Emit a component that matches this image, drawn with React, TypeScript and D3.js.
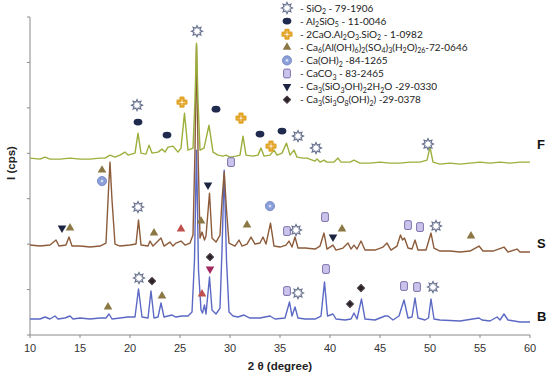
import React from 'react';
import * as d3 from 'd3';

// XRD patterns, [2θ, intensity (cps, offset traces)]
const seriesB: [number, number][] = [
  [10, 176], [11, 176], [11.5, 198], [12, 176], [12.5, 209], [12.8, 176], [13.5, 187], [14, 209], [14.3, 176],
  [15, 187], [16, 176], [17, 187], [17.6, 187], [17.9, 231], [18.2, 176], [19, 187], [19.8, 198], [20.5, 198],
  [20.85, 506], [21.2, 198], [21.8, 187], [22.1, 484], [22.4, 187], [22.8, 198], [23.1, 352], [23.4, 198],
  [24.2, 220], [24.6, 198], [25.2, 209], [25.8, 209], [26.2, 253], [26.45, 825], [26.65, 2035], [26.85, 715],
  [27.1, 275], [27.25, 242], [27.45, 330], [27.6, 231], [27.95, 638], [28.2, 275], [28.6, 231], [29.0, 297],
  [29.2, 935], [29.42, 1815], [29.65, 825], [29.9, 253], [30.3, 209], [30.8, 198], [31.4, 220], [32, 187],
  [33, 187], [34, 209], [34.5, 176], [35.5, 187], [35.95, 363], [36.2, 209], [36.5, 308], [36.8, 187],
  [37.5, 176], [38.5, 176], [39.1, 209], [39.45, 583], [39.75, 209], [40.3, 231], [40.6, 176], [41.5, 165],
  [42.1, 176], [42.4, 242], [42.7, 176], [43.15, 396], [43.5, 176], [44.5, 165], [45.5, 209], [45.8, 209],
  [46.3, 165], [46.9, 209], [47.4, 385], [47.8, 187], [48.2, 198], [48.5, 407], [48.8, 187], [49.5, 165],
  [49.85, 187], [50.1, 396], [50.4, 176], [51, 165], [53, 154], [54.9, 187], [55.2, 165], [56, 154],
  [56.7, 198], [57.0, 165], [57.4, 231], [57.8, 165], [59, 143], [60, 143],
];

const seriesS: [number, number][] = [
  [10, 990], [11, 979], [12, 990], [12.6, 1045], [12.9, 979], [13.6, 990], [13.9, 1078], [14.2, 979],
  [15, 979], [16, 968], [17, 979], [17.6, 1012], [17.85, 1595], [18.0, 1903], [18.2, 1485], [18.5, 1001],
  [19, 979], [20, 990], [20.6, 1001], [20.85, 1265], [21.1, 990], [21.8, 979], [22.0, 1034], [22.3, 979],
  [23.1, 1067], [23.4, 979], [24.0, 1023], [24.3, 979], [24.6, 1012], [25.1, 1034], [25.5, 990], [26.0, 1012],
  [26.3, 1100], [26.5, 2035], [26.65, 3190], [26.8, 2035], [27.0, 1067], [27.2, 1133], [27.45, 1045],
  [27.6, 1089], [27.95, 1562], [28.2, 1067], [28.6, 1023], [29.0, 1100], [29.2, 1485], [29.42, 1793],
  [29.65, 1375], [29.9, 1012], [30.5, 979], [30.9, 1045], [31.2, 979], [31.7, 1001], [32.1, 1078],
  [32.5, 1001], [33.0, 1012], [33.3, 1078], [33.6, 1001], [34.05, 1232], [34.4, 979], [35.0, 968],
  [35.6, 990], [35.9, 1034], [36.2, 968], [36.5, 1078], [36.8, 957], [37.5, 957], [38.5, 946], [39.0, 979],
  [39.4, 1122], [39.7, 946], [40.3, 990], [40.6, 935], [41.3, 957], [41.8, 1012], [42.1, 946], [42.4, 990],
  [42.7, 946], [43.1, 1034], [43.5, 935], [44.5, 935], [45.3, 968], [45.7, 1012], [46.1, 935], [46.7, 979],
  [47.05, 1100], [47.25, 1045], [47.45, 1067], [47.8, 957], [48.2, 946], [48.5, 1045], [48.8, 935],
  [49.6, 935], [50.1, 1122], [50.4, 957], [51, 924], [52, 924], [53, 913], [54, 924], [54.9, 979],
  [55.3, 924], [56.3, 924], [57.4, 968], [57.8, 913], [58.7, 946], [59.0, 913], [60, 913],
];

const seriesF: [number, number][] = [
  [10, 1947], [11, 1936], [11.5, 1958], [12, 1936], [13, 1936], [14, 1947], [15, 1936], [16, 1936],
  [17, 1947], [17.5, 1947], [18.0, 1980], [18.5, 1958], [19, 1980], [19.5, 2013], [19.8, 1980], [20.5, 2002],
  [20.8, 2222], [21.1, 2002], [21.6, 1991], [21.9, 2090], [22.2, 2002], [22.8, 2013], [23.2, 2046],
  [23.5, 2013], [23.8, 2068], [24.3, 2079], [24.8, 2013], [25.1, 2057], [25.45, 2442], [25.8, 2035],
  [26.3, 2057], [26.5, 2585], [26.65, 3212], [26.8, 2585], [27.0, 2035], [27.4, 2057], [27.9, 2310],
  [28.3, 2013], [28.8, 1980], [29.3, 1969], [29.6, 1980], [30.0, 1958], [30.6, 1969], [31.0, 1980],
  [31.3, 2189], [31.6, 1980], [32.3, 1969], [32.8, 1980], [33.1, 2057], [33.4, 1969], [34, 1980],
  [34.4, 2035], [34.7, 1980], [35.2, 2002], [35.65, 2112], [36.0, 1980], [36.4, 2035], [36.7, 1958],
  [37.3, 1947], [37.7, 1947], [38.5, 1914], [38.7, 1936], [39.0, 1903], [39.4, 1925], [39.7, 1903],
  [40.4, 1903], [40.8, 1947], [41.1, 1903], [42, 1903], [42.4, 1925], [43, 1892], [44, 1892], [45, 1903],
  [46, 1892], [47, 1892], [48, 1903], [49, 1903], [49.7, 1925], [50.0, 2068], [50.3, 1903], [51, 1881],
  [52, 1892], [53, 1881], [54, 1892], [55, 1903], [56, 1892], [57, 1903], [58, 1892], [59, 1903], [60, 1903],
];

// phase markers: [2θ, height, phase, colour override]
type Mark = [number, number, string, string?];
const marksF: Mark[] = [
  [26.7, 3344, 'star'], [20.7, 2530, 'star'], [20.8, 2343, 'hex'], [23.7, 2200, 'hex'], [25.2, 2563, 'gehl'],
  [28.6, 2486, 'hex'], [31.1, 2387, 'gehl'], [33.0, 2211, 'hex'], [34.1, 2079, 'gehl'], [35.2, 2244, 'hex'],
  [36.8, 2189, 'star'], [38.6, 2057, 'star'], [49.8, 2101, 'star'],
];
const marksS: Mark[] = [
  [13.2, 1177, 'down'], [14.0, 1177, 'tri'], [17.2, 1815, 'tri'], [17.2, 1694, 'circ'], [20.8, 1408, 'star'],
  [22.4, 1122, 'tri'], [25.1, 1166, 'tri', '#c0504d'], [27.1, 1254, 'tri'], [27.8, 1650, 'down'],
  [30.1, 1903, 'rect'], [31.7, 1210, 'tri'], [34.0, 1419, 'circ'], [35.7, 1144, 'rect'], [36.6, 1155, 'star'],
  [39.5, 1298, 'rect'], [40.3, 1078, 'down'], [41.2, 1166, 'tri'], [47.8, 1210, 'rect'], [49.0, 1188, 'rect'],
  [50.6, 1199, 'star'], [54.1, 1089, 'tri'],
];
const marksB: Mark[] = [
  [17.8, 308, 'tri'], [20.9, 627, 'star'], [22.2, 594, 'diam'], [23.2, 429, 'tri'], [27.2, 451, 'tri', '#c0504d'],
  [28.0, 858, 'diam'], [28.0, 726, 'down', '#a3285e'], [35.7, 484, 'rect'], [36.8, 462, 'star'],
  [39.6, 726, 'rect'], [42.0, 341, 'diam'], [43.1, 517, 'diam'], [47.4, 539, 'rect'], [48.7, 528, 'rect'],
  [50.3, 528, 'star'],
];

const legendPhases = ['star', 'hex', 'gehl', 'tri', 'circ', 'rect', 'down', 'diam'];
const legendLabels = [
  '- SiO_{2} - 79-1906',
  '- Al_{2}SiO_{5} - 11-0046',
  '- 2CaO.Al_{2}O_{3}.SiO_{2} - 1-0982',
  '- Ca_{6}(Al(OH)_{6})_{2}(SO_{4})_{3}(H_{2}O)_{26}-72-0646',
  '- Ca(OH)_{2} -84-1265',
  '- CaCO_{3} - 83-2465',
  '- Ca_{3}(SiO_{3}OH)_{2}2H_{2}O -29-0330',
  '- Ca_{3}(Si_{3}O_{8}(OH)_{2}) -29-0378',
];
const xTicks = [10, 15, 20, 25, 30, 35, 40, 45, 50, 55, 60];
const yTicks = [0, 500, 1000, 1500, 2000, 2500, 3000, 3500];

const W = 550, H = 376;
const margin = { left: 30, right: 20, top: 17, bottom: 41 };

const x = d3.scaleLinear().domain([10, 60]).range([margin.left, W - margin.right]);
const y = d3.scaleLinear().domain([0, 3500]).range([H - margin.bottom, margin.top]);

const line = d3.line<[number, number]>().x(d => x(d[0])).y(d => y(d[1]));

const starPath = (() => {
  const pts: [number, number][] = [];
  for (let i = 0; i < 16; i++) {
    const r = i % 2 === 0 ? 5.5 : 3.2;
    const a = (i * Math.PI) / 8;
    pts.push([r * Math.sin(a), -r * Math.cos(a)]);
  }
  return 'M' + pts.map(p => p.join(',')).join('L') + 'Z';
})();

function Marker({ type, cx, cy, color }: { type: string; cx: number; cy: number; color?: string }) {
  const t = `translate(${cx},${cy})`;
  switch (type) {
    case 'star':
      return <path transform={t} d={starPath} fill="#fff" stroke="#6a7390" strokeWidth={1.2} />;
    case 'hex':
      return <ellipse cx={cx} cy={cy} rx={4.4} ry={3.4} fill="#1f2a4e" />;
    case 'gehl':
      return <path transform={t} d={d3.symbol(d3.symbolCross, 42)()!} fill="#fff" stroke="#e2a52a" strokeWidth={2.4} strokeLinejoin="round" />;
    case 'tri':
      return <path transform={t} d={d3.symbol(d3.symbolTriangle, 32)()!} fill={color || '#8b7844'} />;
    case 'down':
      return <path transform={t + ' rotate(180)'} d={d3.symbol(d3.symbolTriangle, 32)()!} fill={color || '#1c2442'} />;
    case 'circ':
      return (
        <g>
          <circle cx={cx} cy={cy} r={4.6} fill="#8a9fd8" stroke="#6d80c2" strokeWidth={0.8} />
          <circle cx={cx} cy={cy} r={1.4} fill="#d4ddf4" />
        </g>
      );
    case 'rect':
      return <rect x={cx - 3.4} y={cy - 4.4} width={6.8} height={8.8} rx={1.5} fill="#cbc3ec" stroke="#7b71ab" strokeWidth={1} />;
    case 'diam':
      return <path transform={t + ' rotate(45)'} d={d3.symbol(d3.symbolSquare, 26)()!} fill="#2b2329" stroke="#4a3e46" strokeWidth={1} strokeLinejoin="round" />;
  }
  return null;
}

function Formula({ text }: { text: string }) {
  const parts = text.split(/(_\{[^}]*\})/).filter(s => s.length);
  let shifted = false;
  return (
    <>
      {parts.map((p, i) => {
        const isSub = p.startsWith('_{');
        const s = isSub ? p.slice(2, -1) : p;
        let dy = 0;
        if (isSub && !shifted) { dy = 2.5; shifted = true; }
        else if (!isSub && shifted) { dy = -2.5; shifted = false; }
        return (
          <tspan key={i} dy={dy} fontSize={isSub ? 7 : undefined}>{s}</tspan>
        );
      })}
    </>
  );
}

export default function App() {
  const series = [
    { name: 'B', data: seriesB, color: '#5b69c4', marks: marksB, labelY: 316 },
    { name: 'S', data: seriesS, color: '#8c5b3a', marks: marksS, labelY: 243 },
    { name: 'F', data: seriesF, color: '#9bb03c', marks: marksF, labelY: 144 },
  ];
  const x0 = margin.left, yBase = y(0);
  return (
    <svg width={W} height={H} style={{ position: 'absolute', left: 0, top: 0, background: '#fff' }}
      fontFamily="'Liberation Sans', Arial, sans-serif">
      {/* axes */}
      <line x1={x0} x2={x0} y1={y(3500)} y2={yBase} stroke="#8a8a8a" />
      <line x1={x0} x2={x(60)} y1={yBase} y2={yBase} stroke="#8a8a8a" />
      {yTicks.map(t => (
        <line key={t} x1={x0 - 3} x2={x0} y1={y(t)} y2={y(t)} stroke="#8a8a8a" />
      ))}
      {xTicks.map(t => (
        <g key={t}>
          <line x1={x(t)} x2={x(t)} y1={yBase} y2={yBase + 3} stroke="#8a8a8a" />
          <text x={x(t)} y={yBase + 17} textAnchor="middle" fontSize={11} fill="#333">{t}</text>
        </g>
      ))}
      <text x={x(35)} y={370} textAnchor="middle" fontSize={11.5} fontWeight="bold" fill="#222">2 θ (degree)</text>
      <text transform="translate(15,163) rotate(-90)" textAnchor="middle" fontSize={11.5} fontWeight="bold" fill="#222">I (cps)</text>

      {/* traces */}
      {series.map(s => (
        <path key={s.name} d={line(s.data)!} fill="none" stroke={s.color} strokeWidth={1.4} strokeLinejoin="round" />
      ))}
      {series.map(s => (
        <g key={s.name + 'm'}>
          {s.marks.map((m, i) => (
            <Marker key={i} type={m[2]} cx={x(m[0])} cy={y(m[1])} color={m[3]} />
          ))}
          <text x={537} y={s.labelY + 5} fontSize={13} fontWeight="bold" fill="#111">{s.name}</text>
        </g>
      ))}

      {/* legend */}
      {legendPhases.map((p, i) => (
        <g key={p}>
          <Marker type={p} cx={287} cy={8 + i * 13.1} />
          <text x={300} y={8 + i * 13.1 + 3.6} fontSize={10} fill="#222" fontFamily="Lato, 'Open Sans', sans-serif">
            <Formula text={legendLabels[i]} />
          </text>
        </g>
      ))}
    </svg>
  );
}
